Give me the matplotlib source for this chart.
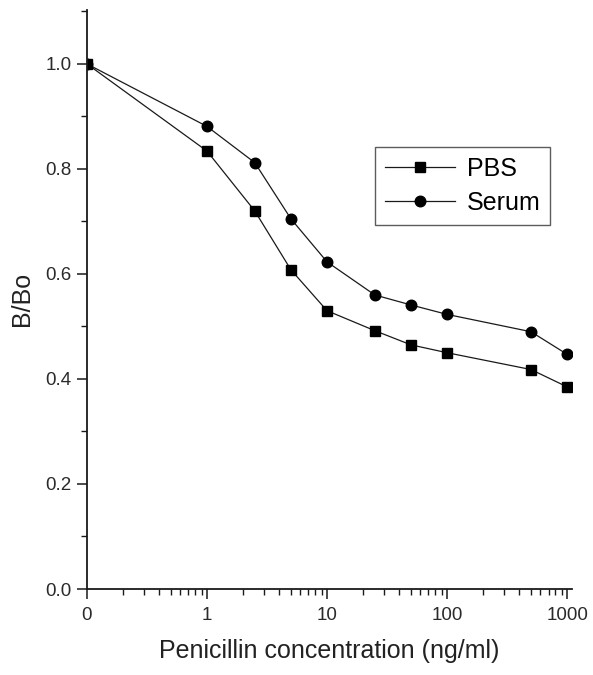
import numpy as np
import matplotlib
matplotlib.use("Agg")
import matplotlib.pyplot as plt
from matplotlib.ticker import FixedLocator, LogLocator, MultipleLocator, NullFormatter, FormatStrFormatter

plt.rcParams['font.family'] = ['Liberation Sans', 'DejaVu Sans']

# Penicillin concentration (ng/ml); the zero standard sits one decade below 1 on the log axis
concentration = np.array([0, 1, 2.5, 5, 10, 25, 50, 100, 500, 1000], dtype=float)
pbs = [1.0, 0.834, 0.72, 0.608, 0.53, 0.492, 0.465, 0.45, 0.418, 0.385]
serum = [1.0, 0.881, 0.812, 0.705, 0.623, 0.56, 0.541, 0.523, 0.490, 0.447]
zero_position = 0.1

x_ticks = [zero_position, 1, 10, 100, 1000]
x_tick_labels = ["0", "1", "10", "100", "1000"]

x = np.where(concentration == 0, zero_position, concentration)

fig = plt.figure(figsize=(5.93, 6.75), dpi=100)
ax = fig.add_axes([0.1467, 0.1274, 0.818, 0.858])

ink = "#1a1a1a"
ax.plot(x, pbs, color=ink, lw=0.9, marker="s", ms=7.3, mfc="black", mec="black", label="PBS")
ax.plot(x, serum, color=ink, lw=0.9, marker="o", ms=7.6, mfc="black", mec="black", label="Serum")

ax.set_xscale("log")
ax.set_xlim(zero_position, 1100)
ax.set_ylim(0, 1.103)

ax.xaxis.set_major_locator(FixedLocator(x_ticks))
ax.set_xticklabels(x_tick_labels)
ax.xaxis.set_minor_locator(LogLocator(base=10, subs=np.arange(2, 10)))
ax.xaxis.set_minor_formatter(NullFormatter())

ax.yaxis.set_major_locator(MultipleLocator(0.2))
ax.yaxis.set_minor_locator(MultipleLocator(0.1))
ax.yaxis.set_major_formatter(FormatStrFormatter("%.1f"))

for side in ("top", "right"):
    ax.spines[side].set_visible(False)
for side in ("left", "bottom"):
    ax.spines[side].set_linewidth(1.3)
    ax.spines[side].set_color(ink)

ax.tick_params(which="major", direction="out", length=7, width=1.1, colors=ink,
               labelsize=13.5, labelcolor="#2a2a2a")
ax.tick_params(which="minor", direction="out", length=4, width=1.0, colors=ink)
ax.tick_params(axis="x", pad=6)
ax.tick_params(axis="y", pad=4)

ax.set_xlabel("Penicillin concentration (ng/ml)", fontsize=18, color="#222222", labelpad=11)
ax.set_ylabel("B/Bo", fontsize=18, color="#222222", labelpad=8)

leg = ax.legend(loc="upper left", bbox_to_anchor=(0.594, 0.763), fontsize=18,
                frameon=True, fancybox=False, edgecolor="#333333", handlelength=2.8,
                borderpad=0.38, labelspacing=0.42, handletextpad=0.5, borderaxespad=0)
leg.get_frame().set_linewidth(1.0)

fig.savefig("out.png", dpi=100, facecolor="white")
